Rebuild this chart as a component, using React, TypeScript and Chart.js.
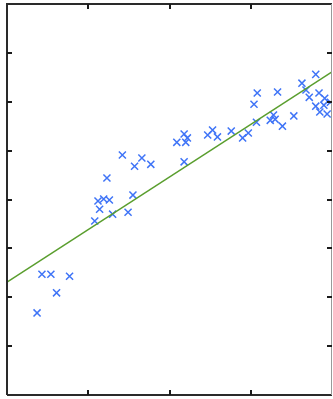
import React, { useEffect, useRef } from "react";
import { Chart, registerables } from "chart.js";

Chart.register(...registerables);

const pointsX = [
  0.37, 0.43, 0.54, 0.61, 0.77, 1.08, 1.14, 1.12, 1.19, 1.26, 1.23, 1.3, 1.49, 1.55, 1.42, 1.66, 1.57, 1.77,
  2.09, 2.18, 2.22, 2.2, 2.18, 2.47, 2.53, 2.59, 2.76, 2.9, 2.97, 3.07, 3.04, 3.08, 3.33, 3.24, 3.28, 3.3,
  3.39, 3.53, 3.63, 3.68, 3.8, 3.72, 3.84, 3.91, 3.98, 3.8, 3.9, 3.85, 3.94,
];
const pointsY = [
  1.68, 2.47, 2.47, 2.09, 2.43, 3.56, 3.8, 3.97, 4.01, 3.99, 4.44, 3.7, 3.74, 4.09, 4.91, 4.85, 4.68, 4.72,
  5.17, 5.34, 5.26, 5.17, 4.77, 5.32, 5.42, 5.28, 5.4, 5.26, 5.36, 5.58, 5.95, 6.18, 6.2, 5.62, 5.73, 5.64,
  5.5, 5.71, 6.38, 6.24, 6.56, 6.09, 6.18, 6.07, 5.99, 5.91, 5.93, 5.79, 5.75,
];
const fitX = [0, 4];
const fitY = [2.31, 6.61];
const xTicks = [0, 1, 2, 3, 4];
const yTicks = [0, 1, 2, 3, 4, 5, 6, 7, 8];

const framePlugin = {
  id: "frameTicks",
  afterDraw(chart: any) {
    const { ctx, chartArea, scales } = chart;
    const { left, right, top, bottom } = chartArea;
    ctx.save();
    ctx.strokeStyle = "#2a2a2a";
    ctx.lineWidth = 2;
    ctx.beginPath();
    ctx.moveTo(left, bottom);
    ctx.lineTo(left, top);
    ctx.lineTo(right, top);
    ctx.moveTo(left, bottom);
    ctx.lineTo(right, bottom);
    ctx.stroke();
    ctx.strokeStyle = "#9a9a9a";
    ctx.lineWidth = 1;
    ctx.beginPath();
    ctx.moveTo(right - 0.5, top);
    ctx.lineTo(right - 0.5, bottom);
    ctx.stroke();
    ctx.strokeStyle = "#1a1a1a";
    ctx.lineWidth = 2;
    const len = 5;
    ctx.beginPath();
    xTicks.slice(1, -1).forEach((v) => {
      const x = Math.round(scales.x.getPixelForValue(v));
      ctx.moveTo(x, bottom);
      ctx.lineTo(x, bottom - len);
      ctx.moveTo(x, top);
      ctx.lineTo(x, top + len);
    });
    yTicks.slice(1, -1).forEach((v) => {
      const y = Math.round(scales.y.getPixelForValue(v));
      ctx.moveTo(left, y);
      ctx.lineTo(left + len, y);
      ctx.moveTo(right, y);
      ctx.lineTo(right - len, y);
    });
    ctx.stroke();
    ctx.restore();
  },
};

export default function App() {
  const ref = useRef<HTMLCanvasElement>(null);
  useEffect(() => {
    document.body.style.margin = "0";
    const chart = new Chart(ref.current!, {
      type: "scatter",
      data: {
        datasets: [
          {
            type: "line",
            data: fitX.map((x, i) => ({ x, y: fitY[i] })),
            borderColor: "#5a9e2e",
            borderWidth: 1.5,
            pointRadius: 0,
            fill: false,
          } as any,
          {
            data: pointsX.map((x, i) => ({ x, y: pointsY[i] })),
            pointStyle: "crossRot",
            pointRadius: 5,
            borderColor: "#3f74f7",
            backgroundColor: "#3f74f7",
            pointBorderWidth: 1.5,
          } as any,
        ],
      },
      options: {
        animation: false,
        responsive: false,
        layout: { autoPadding: false, padding: { left: 7, top: 4, right: 1, bottom: 4 } },
        plugins: { legend: { display: false }, tooltip: { enabled: false } },
        scales: {
          x: { type: "linear", min: 0, max: 4, display: false },
          y: { type: "linear", min: 0, max: 8, display: false },
        },
      },
      plugins: [framePlugin],
    });
    return () => chart.destroy();
  }, []);
  return (
    <div style={{ width: 333, height: 399, background: "#fff" }}>
      <canvas ref={ref} width={333} height={399} style={{ display: "block" }} />
    </div>
  );
}
